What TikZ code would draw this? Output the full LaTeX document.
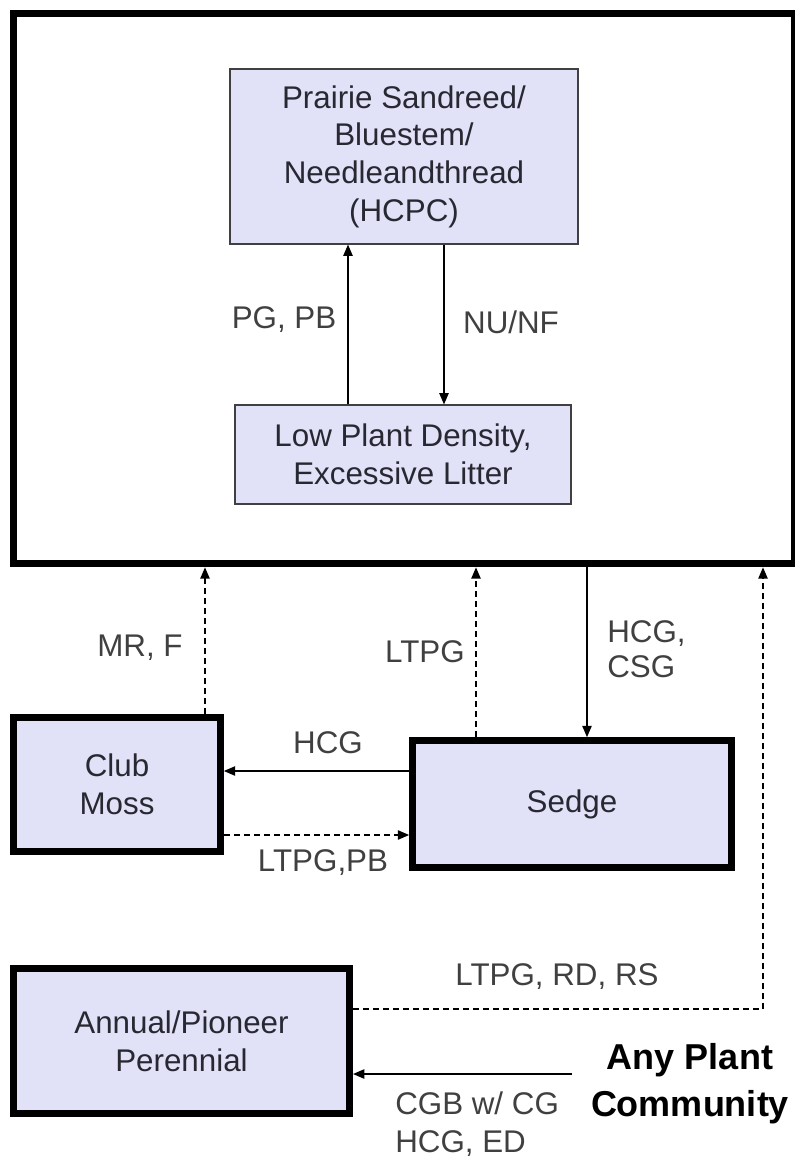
\documentclass[tikz,border=0pt]{standalone}
\usepackage{fontspec}
\setmainfont{Liberation Sans}
\usetikzlibrary{arrows.meta,positioning,calc}
\definecolor{boxfill}{RGB}{225,225,247}
\definecolor{boxtext}{RGB}{40,40,50}
\definecolor{labeltext}{RGB}{64,64,64}

\begin{document}
\begin{tikzpicture}[
  x=0.75pt, y=-0.75pt,
  box/.style={draw=black!75, line width=1.1pt, fill=boxfill, align=center, text=boxtext, inner sep=0pt, font=\fontsize{23.5}{28.3}\selectfont},
  thickbox/.style={box, draw=black, line width=5.25pt},
  lbl/.style={text=labeltext, inner sep=0pt, font=\fontsize{23.5}{26.5}\selectfont},
  arrow/.style={->, line width=1.1pt, >={Triangle[length=8.5pt,width=7pt]}},
  dashedarrow/.style={arrow, dash pattern=on 4.5pt off 3pt}
]
  \useasboundingbox (0,0) rectangle (794,1160);

  % State (outer frame)
  \node[draw, line width=5.25pt, minimum width=586pt, minimum height=413pt, inner sep=0pt] (state) at (404.25,288.5) {};

  % Communities inside the state
  \node[box, minimum width=261pt, minimum height=131pt] (hcpc) at (404,156.5) {Prairie Sandreed/\\Bluestem/\\Needleandthread\\(HCPC)};
  \node[box, minimum width=252pt, minimum height=74pt] (low) at (403,454.5) {Low Plant Density,\\Excessive Litter};

  % Other communities
  \node[thickbox, minimum width=155pt, minimum height=100.5pt] (club) at (117,784.5) {Club\\Moss};
  \node[thickbox, minimum width=239pt, minimum height=95pt] (sedge) at (572,804) {Sedge};
  \node[thickbox, minimum width=252pt, minimum height=109pt] (annual) at (181.5,1041) {Annual/Pioneer\\Perennial};
  \node[align=center, inner sep=0pt, font=\fontsize{27}{35}\bfseries] (anyplant) at (690,1083.5) {Any Plant\\Community};
  \coordinate (src) at (572,1074);

  % Arrows inside the state
  \draw[arrow] (348,0 |- low.north) -- (348,0 |- hcpc.south);
  \draw[arrow] (444,0 |- hcpc.south) -- (444,0 |- low.north);
  \node[lbl] at (284,320) {PG, PB};
  \node[lbl] at (511,322) {NU/NF};

  % Transitions
  \draw[dashedarrow] (205,0 |- club.north) -- (205,0 |- state.south);
  \node[lbl] at (140,648) {MR, F};
  \draw[dashedarrow] (476,0 |- sedge.north) -- (476,0 |- state.south);
  \node[lbl] at (425,652) {LTPG};
  \draw[arrow] (587,0 |- state.south) -- (587,0 |- sedge.north);
  \node[lbl, align=left, anchor=west] at (607,649.5) {HCG,\\CSG};

  \draw[arrow] (sedge.west |- 0,771) -- (club.east |- 0,771);
  \node[lbl] at (328,743) {HCG};
  \draw[dashedarrow] (club.east |- 0,835) -- (sedge.west |- 0,835);
  \node[lbl] at (323,863) {LTPG,PB};

  \draw[dashedarrow] (annual.east |- 0,1009) -- (763,1009) -- (763,0 |- state.south);
  \node[lbl] at (557,977) {LTPG, RD, RS};
  \draw[arrow] (src) -- (src -| annual.east);
  \node[lbl, align=left, anchor=west, font=\fontsize{23.5}{29}\selectfont] at (395,1124) {CGB w/ CG\\HCG, ED};
\end{tikzpicture}
\end{document}
